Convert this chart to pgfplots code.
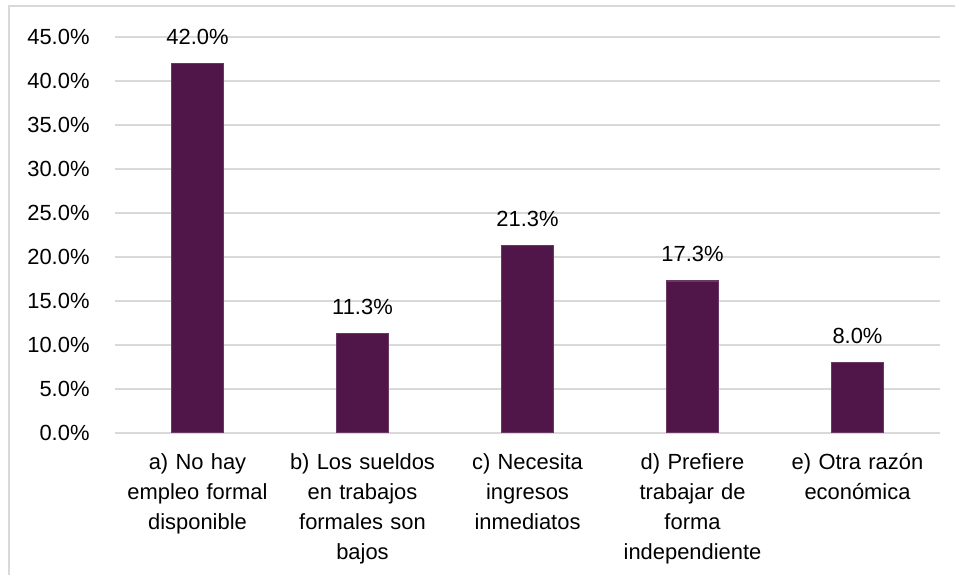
\documentclass[border=0pt]{standalone}
\usepackage{fontspec}
\setmainfont{Liberation Sans}
\usepackage{pgfplots}
\pgfplotsset{compat=1.18}
\definecolor{barc}{HTML}{501549}
\definecolor{gridc}{HTML}{D9D9D9}
\begin{document}
\fontsize{22}{30}\selectfont
\begin{tikzpicture}[x=1bp,y=1bp]
\useasboundingbox (0,0) rectangle (955,575);
\draw[gridc, line width=1.5bp] (9,-5) |- (960,569);
\begin{axis}[
    at={(115bp,142bp)}, anchor=south west,
    scale only axis, width=825bp, height=396bp,
    xmin=-0.5, xmax=4.5, ymin=0, ymax=45,
    ytick={0,5,...,45},
    xtick={0,1,2,3,4},
    xticklabels={{a) No hay\\empleo formal\\disponible},
                 {b) Los sueldos\\en trabajos\\formales son\\bajos},
                 {c) Necesita\\ingresos\\inmediatos},
                 {d) Prefiere\\trabajar de\\forma\\independiente},
                 {e) Otra razón\\económica}},
    x tick label style={align=center, text width=170bp, yshift=-13bp},
    y tick label style={xshift=-18bp},
    yticklabel={\pgfmathprintnumber[fixed,fixed zerofill,precision=1]{\tick}\%},
    /pgf/number format/assume math mode=true,
    axis x line=bottom, axis y line=left,
    y axis line style={draw=none},
    x axis line style={-, gridc, line width=1.5bp},
    major tick length=0,
    tick style={draw=none},
    ymajorgrids, grid style={gridc, line width=1.5bp},
    ybar, bar width=52bp,
    nodes near coords={\pgfmathprintnumber[fixed,fixed zerofill,precision=1]{\pgfplotspointmeta}\%},
    nodes near coords style={anchor=south, inner sep=0pt, yshift=18bp, /pgf/number format/assume math mode=true},
]
\addplot[fill=barc, draw=barc!85!white, line width=1.5bp] coordinates {(0,42.0) (1,11.3) (2,21.3) (3,17.3) (4,8.0)};
\end{axis}
\end{tikzpicture}
\end{document}
